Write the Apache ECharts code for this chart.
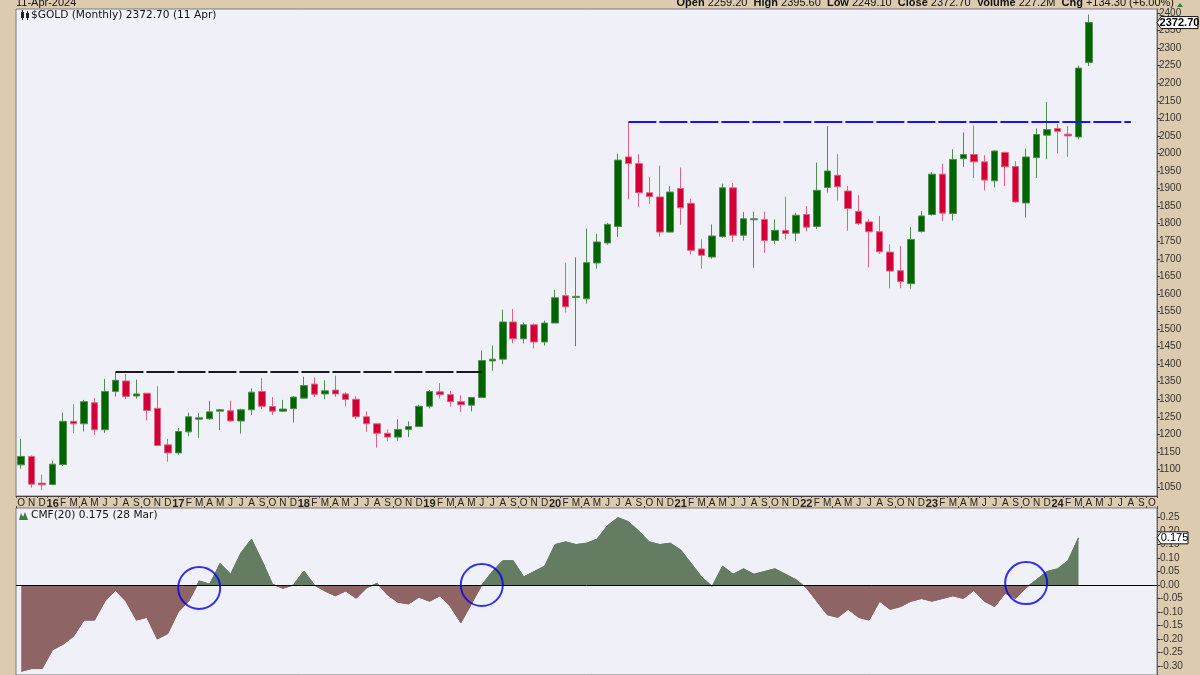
<!DOCTYPE html>
<html><head><meta charset="utf-8">
<script src="https://cdn.jsdelivr.net/npm/echarts@6/dist/echarts.min.js"></script>
<style>html,body{margin:0;padding:0;background:#dccbaf;}#c{width:1200px;height:675px;}</style>
</head><body><div id="c"></div>
<script>
// ---- categories (Oct 2015 .. Oct 2024) ----
const months = [
'2015-10','2015-11','2015-12',
'2016-01','2016-02','2016-03','2016-04','2016-05','2016-06','2016-07','2016-08','2016-09','2016-10','2016-11','2016-12',
'2017-01','2017-02','2017-03','2017-04','2017-05','2017-06','2017-07','2017-08','2017-09','2017-10','2017-11','2017-12',
'2018-01','2018-02','2018-03','2018-04','2018-05','2018-06','2018-07','2018-08','2018-09','2018-10','2018-11','2018-12',
'2019-01','2019-02','2019-03','2019-04','2019-05','2019-06','2019-07','2019-08','2019-09','2019-10','2019-11','2019-12',
'2020-01','2020-02','2020-03','2020-04','2020-05','2020-06','2020-07','2020-08','2020-09','2020-10','2020-11','2020-12',
'2021-01','2021-02','2021-03','2021-04','2021-05','2021-06','2021-07','2021-08','2021-09','2021-10','2021-11','2021-12',
'2022-01','2022-02','2022-03','2022-04','2022-05','2022-06','2022-07','2022-08','2022-09','2022-10','2022-11','2022-12',
'2023-01','2023-02','2023-03','2023-04','2023-05','2023-06','2023-07','2023-08','2023-09','2023-10','2023-11','2023-12',
'2024-01','2024-02','2024-03','2024-04','2024-05','2024-06','2024-07','2024-08','2024-09','2024-10'];
const monthLetters = ['J','F','M','A','M','J','J','A','S','O','N','D'];

// ---- monthly OHLC ($GOLD) ----
const opens = [1113,1137,1061,1057,1114,1237,1230,1290,1213,1322,1352,1309,1317,1274,1170,
1147,1207,1243,1244,1266,1267,1238,1270,1322,1279,1266,1273,
1303,1343,1315,1326,1315,1300,1250,1230,1203,1192,1214,1222,
1280,1321,1313,1293,1283,1305,1409,1414,1520,1472,1512,1463,
1517,1595,1590,1586,1688,1745,1792,1990,1971,1888,1876,1776,
1900,1858,1728,1705,1763,1902,1767,1811,1812,1752,1781,1773,
1826,1792,1903,1938,1893,1835,1805,1777,1719,1666,1629,1778,
1826,1941,1829,1985,1997,1976,1922,2003,1963,1859,1988,2052,
2071,2055,2047,2259.2];
const closes = [1137,1058,1056,1115,1237,1230,1293,1213,1322,1354,1308,1315,1268,1168,1147,
1208,1250,1247,1264,1270,1238,1270,1320,1280,1266,1272,1306,
1339,1314,1324,1315,1299,1250,1230,1203,1192,1214,1222,1280,
1322,1313,1293,1284,1305,1410,1414,1520,1472,1512,1463,1517,
1589,1563,1593,1689,1748,1798,1981,1971,1888,1877,1776,1890,
1845,1724,1710,1765,1902,1767,1814,1814,1752,1781,1772,1824,
1790,1895,1950,1905,1843,1800,1777,1720,1665,1635,1755,1822,
1941,1830,1983,1997,1976,1924,2007,1962,1862,1990,2054,2068,
2063,2050,2243,2372.7];
const lows = [1102,1048,1041,1055,1110,1203,1208,1198,1204,1308,1301,1302,1240,1167,1122,
1142,1195,1190,1241,1212,1236,1202,1255,1272,1255,1264,1234,
1302,1306,1300,1307,1280,1243,1207,1162,1180,1182,1192,1221,
1274,1302,1279,1264,1265,1304,1381,1400,1459,1459,1445,1453,
1517,1547,1451,1572,1672,1740,1762,1869,1848,1856,1763,1775,
1797,1712,1672,1700,1760,1748,1752,1674,1717,1742,1755,1750,
1778,1785,1889,1866,1780,1797,1675,1714,1616,1616,1615,1775,
1823,1807,1809,1962,1930,1895,1903,1907,1860,1817,1930,1983,
2000,1990,2040,2249.1];
const highs = [1187,1140,1085,1125,1262,1286,1298,1303,1358,1377,1372,1356,1318,1337,1187,
1218,1262,1261,1296,1272,1296,1273,1331,1360,1306,1298,1309,
1364,1362,1354,1367,1320,1309,1265,1230,1214,1243,1237,1284,
1326,1346,1323,1311,1306,1439,1453,1555,1557,1518,1516,1524,
1611,1689,1704,1786,1771,1802,1999,2089,1998,1933,1965,1907,
1960,1871,1755,1798,1914,1916,1833,1834,1834,1812,1877,1831,
1850,1974,2078,1998,1907,1881,1813,1822,1741,1736,1790,1836,
1947,1971,2012,2060,2080,1995,2009,2005,1978,2014,2071,2147,
2083,2078,2250,2395.6];

// ---- CMF(20) ----
const cmf = [-0.32,-0.31,-0.31,-0.24,-0.22,-0.19,-0.13,-0.13,-0.06,-0.02,-0.06,-0.13,-0.12,-0.20,-0.18,
-0.10,-0.06,0.015,0.003,0.08,0.04,0.12,0.17,0.09,0.003,-0.012,0.0,
0.052,0.0,-0.022,-0.04,-0.022,-0.049,-0.01,0.006,-0.037,-0.064,-0.07,-0.045,
-0.06,-0.04,-0.08,-0.14,-0.07,0.0,0.05,0.09,0.09,0.03,0.05,0.07,
0.15,0.16,0.15,0.155,0.17,0.22,0.25,0.235,0.2,0.16,0.15,0.155,
0.13,0.08,0.03,-0.005,0.07,0.04,0.06,0.04,0.05,0.06,0.04,0.02,
-0.01,-0.06,-0.11,-0.12,-0.09,-0.12,-0.13,-0.06,-0.09,-0.08,-0.06,-0.05,
-0.06,-0.05,-0.04,-0.05,-0.02,-0.06,-0.08,-0.03,-0.05,-0.01,0.02,0.05,
0.06,0.09,0.175];

// ---- annotations ----
const resistanceLow = {from:'2016-07', to:'2019-06', value:1377};
const resistanceHigh = {from:'2020-08', to:'2024-08', value:2089};
const cmfCircles = [['2017-03',-0.011],['2019-06',0.0],['2023-10',0.007]];

// ---- tick labels ----
const priceTicks = [1050,1100,1150,1200,1250,1300,1350,1400,1450,1500,1550,1600,1650,1700,1750,1800,1850,1900,1950,2000,2050,2100,2150,2200,2250,2300,2350,2400];
const cmfTicks = [-0.30,-0.25,-0.20,-0.15,-0.10,-0.05,0.00,0.05,0.10,0.15,0.20,0.25];

const lastClose = 2372.70, lastCmf = 0.175;

const candleData = opens.map((o,i)=>[o, closes[i], lows[i], highs[i]]);

const chart = echarts.init(document.getElementById('c'), null, {renderer:'canvas'});
const axisFont = 'Liberation Sans, Arial, sans-serif';

const option = {
  animation:false,
  backgroundColor:'#dccbaf',
  grid:[
    {left:16, right:43, top:9, height:487, show:true, backgroundColor:'#f0f0f8', borderColor:'#7a7a7a', borderWidth:1},
    {left:16, right:43, top:508, bottom:0, show:true, backgroundColor:'#f0f0f8', borderColor:'#7a7a7a', borderWidth:1}
  ],
  xAxis:[
    {type:'category', gridIndex:0, data:months, boundaryGap:true,
     axisLine:{show:true, onZero:false, lineStyle:{color:'#444'}},
     axisTick:{show:true, length:2, lineStyle:{color:'#444'}},
     splitLine:{show:false},
     axisLabel:{interval:0, margin:2, fontSize:10, fontFamily:'Liberation Sans Narrow, Liberation Sans, Arial', color:'#222',
       formatter:function(v){const p=v.split('-');const m=+p[1];return m===1?'{y|'+p[0].slice(2)+'}':monthLetters[m-1];},
       rich:{y:{fontWeight:'bold', fontSize:11, fontFamily:'Liberation Sans Narrow, Liberation Sans, Arial', color:'#222'}}}},
    {type:'category', gridIndex:1, data:months, boundaryGap:true, position:'top',
     axisLine:{show:false, onZero:false}, axisTick:{show:true, length:2, lineStyle:{color:'#444'}}, axisLabel:{show:false}, splitLine:{show:false}}
  ],
  yAxis:[
    {type:'value', gridIndex:0, position:'right', min:1024.3, max:2411.4, scale:true,
     axisLine:{show:true, lineStyle:{color:'#555', type:'dotted'}},
     axisTick:{show:true, length:3, customValues:priceTicks, lineStyle:{color:'#333'}},
     axisLabel:{customValues:priceTicks, margin:2, fontSize:10, fontFamily:axisFont, color:'#333',
       formatter:function(v){return String(Math.round(v));}},
     splitLine:{show:false}},
    {type:'value', gridIndex:1, position:'right', min:-0.334, max:0.2858,
     axisLine:{show:true, lineStyle:{color:'#555', type:'dotted'}},
     axisTick:{show:true, length:3, customValues:cmfTicks, lineStyle:{color:'#333'}},
     axisLabel:{customValues:cmfTicks, margin:3, fontSize:10, fontFamily:axisFont, color:'#333',
       formatter:function(v){return (v<-1e-9?'-':'')+Math.abs(v).toFixed(2);}},
     splitLine:{show:false}}
  ],
  visualMap:[{type:'piecewise', show:false, seriesIndex:1, dimension:1,
    pieces:[{gt:-1, lte:0, color:'#8e6464'},{gt:0, lte:1, color:'#647c62'}]}],
  series:[
    {type:'candlestick', name:'GOLD', xAxisIndex:0, yAxisIndex:0, data:candleData, barWidth:7,
     itemStyle:{color:'#006400', color0:'#d20036', borderColor:'#4e8f4e', borderColor0:'#e2637f', borderWidth:1},
     markLine:{silent:true, symbol:['none','none'], label:{show:false},
       data:[
         [{coord:[resistanceLow.from, resistanceLow.value], lineStyle:{color:'#1a1a1a', width:2, type:[28,3]}},
          {coord:[resistanceLow.to, resistanceLow.value]}],
         [{coord:[resistanceHigh.from, resistanceHigh.value], lineStyle:{color:'#1414ff', width:2, type:[28,3]}},
          {coord:[resistanceHigh.to, resistanceHigh.value]}]
       ]}},
    {type:'line', name:'CMF', xAxisIndex:1, yAxisIndex:1, data:cmf, symbol:'none',
     lineStyle:{width:1}, areaStyle:{opacity:1},
     markLine:{silent:true, symbol:['none','none'], label:{show:false},
       lineStyle:{color:'#000', width:1, type:'solid'}, data:[{yAxis:0}]}},
    {type:'scatter', xAxisIndex:1, yAxisIndex:1, data:cmfCircles, symbol:'circle', symbolSize:42, z:10,
     itemStyle:{color:'rgba(0,0,0,0)', borderColor:'#0000ee', borderWidth:2}}
  ]
};
chart.setOption(option);

const yClose = chart.convertToPixel({yAxisIndex:0}, lastClose);
const yCmf = chart.convertToPixel({yAxisIndex:1}, lastCmf);

chart.setOption({graphic:[
  {type:'text', left:16, top:-3, style:{text:'11-Apr-2024', font:'11px Liberation Sans, Arial', fill:'#111'}},
  {type:'text', right:26, top:-3, style:{
    text:'{b|Open} 2259.20  {b|High} 2395.60  {b|Low} 2249.10  {b|Close} 2372.70  {b|Volume} 227.2M  {b|Chg} +134.30 (+6.00%)',
    font:'11px Liberation Sans, Arial', fill:'#111',
    rich:{b:{fontWeight:'bold', fontSize:11, fontFamily:'Liberation Sans, Arial', fill:'#111'}}}},
  {type:'polygon', shape:{points:[[1177,7],[1183,7],[1180,3]]}, style:{fill:'#2a8a2a'}},
  {type:'rect', shape:{x:21,y:12,width:3,height:6}, style:{fill:'#222'}},
  {type:'line', shape:{x1:22.5,y1:10,x2:22.5,y2:20}, style:{stroke:'#222',lineWidth:1}},
  {type:'rect', shape:{x:26,y:13,width:3,height:5}, style:{fill:'#222'}},
  {type:'line', shape:{x1:27.5,y1:11,x2:27.5,y2:20}, style:{stroke:'#222',lineWidth:1}},
  {type:'text', left:31, top:10, style:{text:'$GOLD (Monthly) 2372.70 (11 Apr)', font:'10.6px DejaVu Sans, Verdana', fill:'#111'}},
  {type:'polygon', shape:{points:[[19,520],[21,513],[23,517],[25,512],[28,520]]}, style:{fill:'#3f7a3f'}},
  {type:'text', left:31, top:510, style:{text:'CMF(20) 0.175 (28 Mar)', font:'10.6px DejaVu Sans, Verdana', fill:'#111'}},
  {type:'polygon', shape:{points:[[1157,yClose],[1161,yClose-6],[1198,yClose-6],[1198,yClose+6],[1161,yClose+6]]},
   style:{fill:'#fff', stroke:'#111', lineWidth:1}, z:50},
  {type:'text', x:1179.5, y:yClose, style:{text:'2372.70', font:'bold 11px Liberation Sans, Arial', fill:'#000', align:'center', verticalAlign:'middle'}, z:51},
  {type:'polygon', shape:{points:[[1157,yCmf],[1161,yCmf-6],[1188,yCmf-6],[1188,yCmf+6],[1161,yCmf+6]]},
   style:{fill:'#fff', stroke:'#111', lineWidth:1}, z:50},
  {type:'text', x:1174.5, y:yCmf, style:{text:'0.175', font:'11px Liberation Sans, Arial', fill:'#000', align:'center', verticalAlign:'middle'}, z:51}
]});
</script>
</body></html>
